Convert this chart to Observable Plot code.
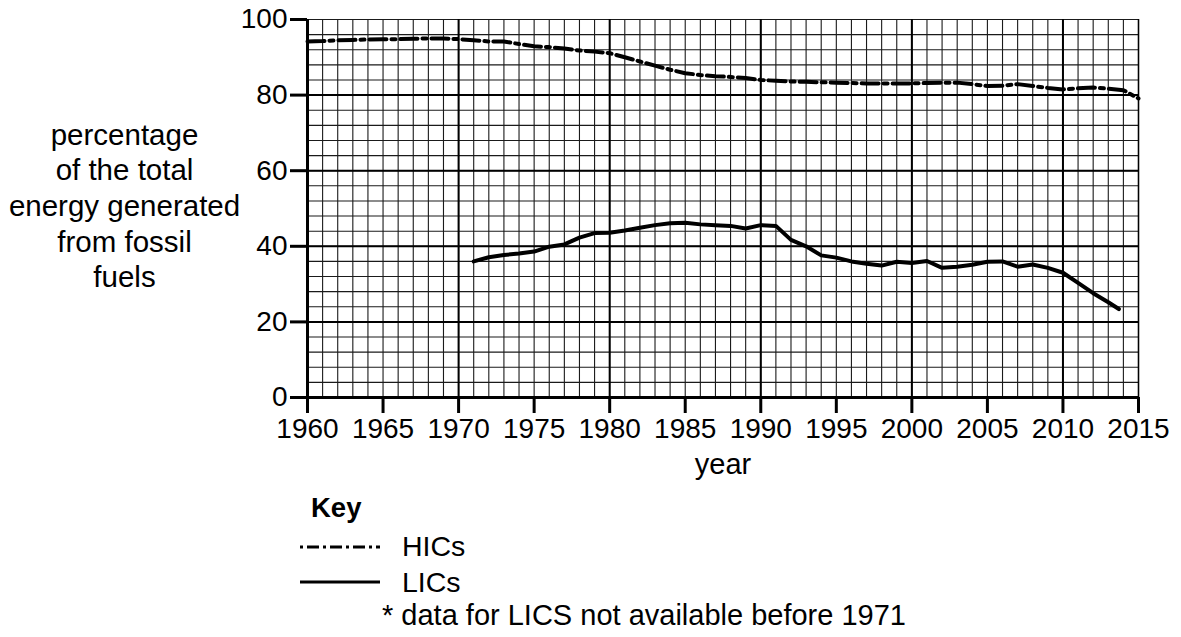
<!DOCTYPE html>
<html>
<head>
<meta charset="utf-8">
<script src="https://cdn.jsdelivr.net/npm/d3@7"></script>
<script src="https://cdn.jsdelivr.net/npm/@observablehq/plot@0.6"></script>
<style>
  html, body { margin: 0; padding: 0; background: #fff; }
  #wrap { position: relative; width: 1181px; height: 637px; font-family: "Liberation Sans", Arial, sans-serif; }
  #chart { position: absolute; left: 0; top: 0; }
  #legend { position: absolute; left: 0; top: 0; }
</style>
</head>
<body>
<div id="wrap">
  <div id="chart"></div>
  <svg id="legend" width="1181" height="637"></svg>
</div>
<script>
// ---- data ----
const hicYears = d3.range(1960, 2016);
const hicValues = [
  94.2, 94.3, 94.5, 94.6, 94.7, 94.8, 94.8, 94.9, 95.0, 95.0,
  94.8, 94.5, 94.2, 94.2, 93.5, 92.9, 92.7, 92.3, 91.8, 91.5,
  91.1, 90.0, 88.9, 87.8, 86.7, 85.8, 85.3, 85.0, 84.8, 84.5,
  84.0, 83.8, 83.6, 83.5, 83.4, 83.3, 83.2, 83.1, 83.1, 83.1,
  83.1, 83.2, 83.3, 83.3, 82.9, 82.4, 82.5, 82.9, 82.4, 81.9,
  81.5, 81.8, 82.0, 81.7, 81.3, 79.1
];
const licYears = [
  1971, 1972, 1973, 1974, 1975, 1976, 1977, 1978, 1979, 1980,
  1981, 1982, 1983, 1984, 1985, 1986, 1987, 1988, 1989, 1990,
  1991, 1992, 1993, 1994, 1995, 1996, 1997, 1998, 1999, 2000,
  2001, 2002, 2003, 2004, 2005, 2006, 2007, 2008, 2009, 2010,
  2011, 2012, 2013, 2013.7
];
const licValues = [
  36.0, 37.1, 37.7, 38.1, 38.6, 39.9, 40.5, 42.3, 43.5, 43.6,
  44.2, 44.9, 45.6, 46.1, 46.2, 45.8, 45.6, 45.4, 44.7, 45.6,
  45.4, 41.7, 40.0, 37.6, 37.0, 36.0, 35.4, 34.9, 35.9, 35.6,
  36.1, 34.3, 34.6, 35.1, 35.9, 36.0, 34.6, 35.2, 34.3, 33.0,
  30.3, 27.6, 25.2, 23.4
];
const xTicks = [1960, 1965, 1970, 1975, 1980, 1985, 1990, 1995, 2000, 2005, 2010, 2015];
const yTicks = [0, 20, 40, 60, 80, 100];
const minorYears = d3.range(1960, 2016, 1);
const majorYears = [1970, 1980, 1990, 2000, 2010];
const minorY = d3.range(0, 101, 4);
const majorY = [20, 40, 60, 80];
const yLabel = "percentage\nof the total\nenergy generated\nfrom fossil\nfuels";
const xLabel = "year";
const seriesNames = ["HICs", "LICs"];
const footnote = "* data for LICS not available before 1971";

const hic = hicYears.map((y, i) => ({year: y, value: hicValues[i]}));
const lic = licYears.map((y, i) => ({year: y, value: licValues[i]}));

const FONT = "Liberation Sans, Arial, sans-serif";
const dashDot = "17,5,4,5";

const plot = Plot.plot({
  width: 1181,
  height: 500,
  marginLeft: 307,
  marginRight: 43,
  marginTop: 19,
  marginBottom: 103,
  style: {fontFamily: FONT, background: "#fff", color: "#000", overflow: "visible"},
  x: {domain: [1960, 2015]},
  y: {domain: [0, 100]},
  marks: [
    Plot.ruleX(minorYears, {stroke: "#1a1a1a", strokeWidth: 1.1}),
    Plot.ruleY(minorY, {stroke: "#1a1a1a", strokeWidth: 1.1}),
    Plot.ruleX(majorYears, {stroke: "#000", strokeWidth: 2}),
    Plot.ruleY(majorY, {stroke: "#000", strokeWidth: 2}),
    Plot.ruleX([2015], {stroke: "#000", strokeWidth: 1.5}),
    Plot.line(hic, {x: "year", y: "value", stroke: "#000", strokeWidth: 4, strokeDasharray: dashDot}),
    Plot.line(lic, {x: "year", y: "value", stroke: "#000", strokeWidth: 4}),
    Plot.axisX({ticks: xTicks, tickFormat: d => String(d), tickSize: 16, tickPadding: 5, fontSize: 28, strokeWidth: 3, label: null}),
    Plot.axisY({ticks: yTicks, tickSize: 17, tickPadding: 3, fontSize: 28, strokeWidth: 3, label: null}),
    Plot.ruleX([1960], {stroke: "#000", strokeWidth: 3}),
    Plot.ruleY([0], {stroke: "#000", strokeWidth: 3}),
    Plot.text([xLabel], {frameAnchor: "bottom", dy: 76, fontSize: 29, fill: "#000"}),
    Plot.text([yLabel], {frameAnchor: "left", dx: -183, dy: -4, fontSize: 29.5, lineHeight: 1.21, textAnchor: "middle", fill: "#000"})
  ]
});
document.getElementById("chart").appendChild(plot);

// ---- legend (key) ----
const lg = d3.select("#legend");
lg.append("text").attr("x", 311).attr("y", 517).attr("font-family", FONT)
  .attr("font-size", 27.5).attr("font-weight", "bold").text("Key");
lg.append("line").attr("x1", 300).attr("x2", 380).attr("y1", 547).attr("y2", 547)
  .attr("stroke", "#000").attr("stroke-width", 3).attr("stroke-dasharray", "3,4,12,4");
lg.append("text").attr("x", 402).attr("y", 556).attr("font-family", FONT)
  .attr("font-size", 28.5).text(seriesNames[0]);
lg.append("line").attr("x1", 300).attr("x2", 380).attr("y1", 582).attr("y2", 582)
  .attr("stroke", "#000").attr("stroke-width", 3);
lg.append("text").attr("x", 402).attr("y", 591.5).attr("font-family", FONT)
  .attr("font-size", 28.5).text(seriesNames[1]);
lg.append("text").attr("x", 382).attr("y", 625).attr("font-family", FONT)
  .attr("font-size", 29).text(footnote);
</script>
</body>
</html>
